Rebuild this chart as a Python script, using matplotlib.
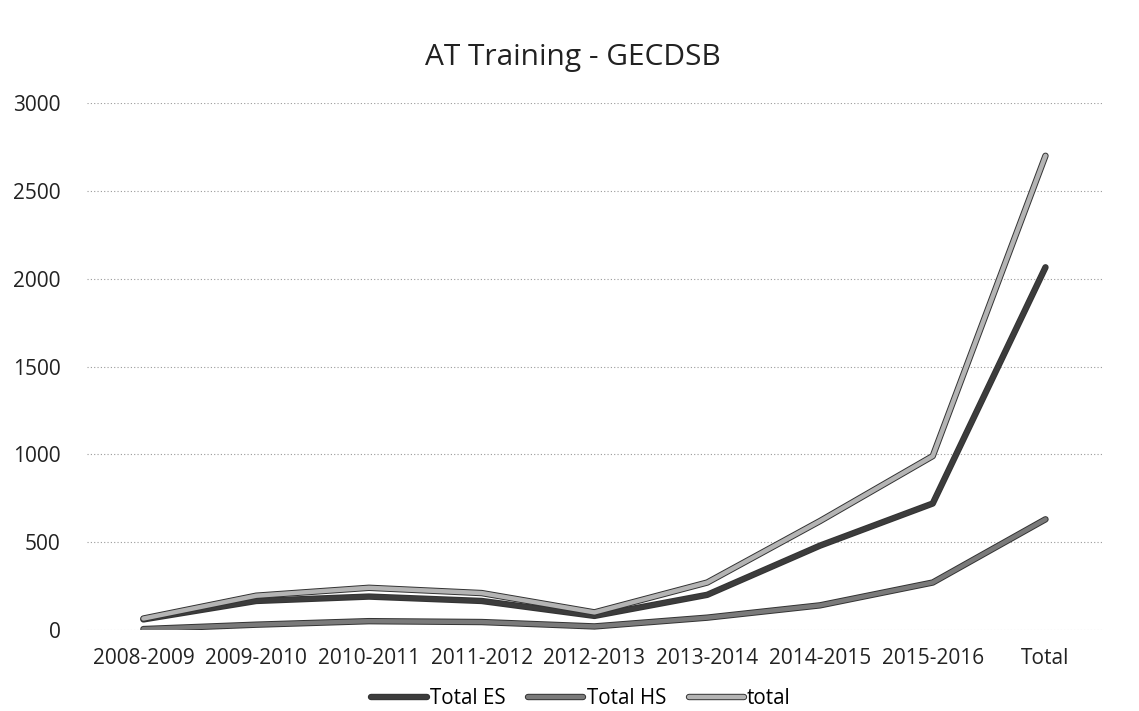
import numpy as np
import matplotlib
matplotlib.use("Agg")
import matplotlib.pyplot as plt
import matplotlib.patheffects as pe

# data
years = ["2008-2009", "2009-2010", "2010-2011", "2011-2012", "2012-2013",
         "2013-2014", "2014-2015", "2015-2016", "Total"]
total_es = [60, 165, 190, 165, 80, 200, 480, 720, 2065]
total_hs = [5, 30, 50, 45, 20, 70, 140, 270, 630]
total = [65, 195, 240, 210, 100, 270, 620, 990, 2700]

plt.rcParams['font.family'] = ['Open Sans', 'DejaVu Sans']

fig = plt.figure(figsize=(11.39, 7.11), dpi=100)
ax = fig.add_axes([0.0764, 0.114, 0.891, 0.741])

x = np.arange(len(years))
series = [(total_es, "Total ES", "#3c3c3c"),
          (total_hs, "Total HS", "#7a7a7a"),
          (total, "total", "#b4b4b4")]
for vals, name, col in series:
    ax.plot(x, vals, color=col, lw=3.2, label=name, solid_capstyle="round",
            path_effects=[pe.Stroke(linewidth=4.6, foreground="#333333"), pe.Normal()])

ax.set_xlim(-0.5, len(years) - 0.5)
ax.set_ylim(0, 3000)
ax.set_yticks(np.arange(0, 3001, 500))
ax.set_xticks(x)
ax.set_xticklabels(years)
ax.grid(axis="y", color="#9a9a9a", linestyle=(0, (1, 2)), linewidth=0.8)
ax.set_axisbelow(True)
for s in ax.spines.values():
    s.set_visible(False)
ax.tick_params(length=0, labelsize=15, colors="#222222")
ax.tick_params(axis="y", pad=19)
ax.tick_params(axis="x", pad=13)

fig.text(573 / 1139, 0.9086, "AT Training - GECDSB", ha="center", va="baseline",
         fontsize=21.5, color="#222222")

fig.legend(loc="center", bbox_to_anchor=(581 / 1139, 0.017), ncol=3, frameon=False,
           fontsize=14.8, handlelength=2.7, columnspacing=1.1, handletextpad=0.15)

plt.savefig("out.png", dpi=100)
